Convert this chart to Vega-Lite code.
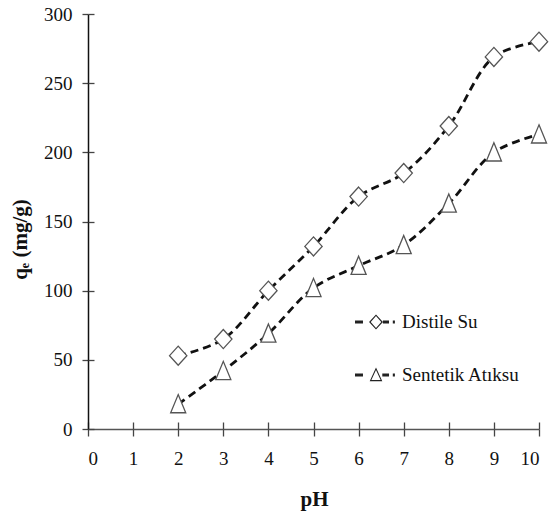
{
  "$schema": "https://vega.github.io/schema/vega-lite/v6.json",
  "width": 451,
  "height": 415,
  "autosize": {"type": "none"},
  "padding": {"left": 88, "top": 14, "right": 16, "bottom": 86},
  "background": "white",
  "config": {"view": {"stroke": null}, "font": "Liberation Serif"},
  "data": {
    "values": [
      {"pH": 2, "qe": 53, "series": "Distile Su"},
      {"pH": 3, "qe": 65, "series": "Distile Su"},
      {"pH": 4, "qe": 100, "series": "Distile Su"},
      {"pH": 5, "qe": 132, "series": "Distile Su"},
      {"pH": 6, "qe": 168, "series": "Distile Su"},
      {"pH": 7, "qe": 185, "series": "Distile Su"},
      {"pH": 8, "qe": 219, "series": "Distile Su"},
      {"pH": 9, "qe": 269, "series": "Distile Su"},
      {"pH": 10, "qe": 280, "series": "Distile Su"},
      {"pH": 2, "qe": 18, "series": "Sentetik Atıksu"},
      {"pH": 3, "qe": 42, "series": "Sentetik Atıksu"},
      {"pH": 4, "qe": 69, "series": "Sentetik Atıksu"},
      {"pH": 5, "qe": 102, "series": "Sentetik Atıksu"},
      {"pH": 6, "qe": 118, "series": "Sentetik Atıksu"},
      {"pH": 7, "qe": 133, "series": "Sentetik Atıksu"},
      {"pH": 8, "qe": 163, "series": "Sentetik Atıksu"},
      {"pH": 9, "qe": 200, "series": "Sentetik Atıksu"},
      {"pH": 10, "qe": 213, "series": "Sentetik Atıksu"}
    ]
  },
  "resolve": {
    "axis": {"x": "independent", "y": "independent"},
    "scale": {"shape": "independent"},
    "legend": {"shape": "independent"}
  },
  "layer": [
    {
      "mark": {"type": "line", "interpolate": "catmull-rom", "strokeDash": [8, 5], "strokeWidth": 2.8, "color": "#111"},
      "encoding": {
        "x": {
          "field": "pH", "type": "quantitative",
          "scale": {"domain": [0, 10], "nice": false, "zero": false},
          "axis": {
            "orient": "bottom",
            "title": "pH", "values": [0,1,2,3,4,5,6,7,8,9,10], "grid": false,
            "labelFont": "Liberation Serif", "labelFontSize": 19, "labelColor": "#111", "labelPadding": 13,
            "tickSize": 7, "tickColor": "#444", "tickWidth": 1.3,
            "domainColor": "#555", "domainWidth": 1.5,
            "titleFont": "Liberation Serif", "titleFontSize": 21, "titleFontWeight": "bold", "titleColor": "#111",
            "titleX": 226, "titleY": 76, "titleBaseline": "alphabetic", "titleAlign": "center"
          }
        },
        "y": {
          "field": "qe", "type": "quantitative",
          "scale": {"domain": [0, 300], "nice": false},
          "axis": {
            "orient": "left",
            "title": "qₑ (mg/g)", "values": [0,50,100,150,200,250,300], "grid": false,
            "labelFont": "Liberation Serif", "labelFontSize": 19, "labelColor": "#111", "labelPadding": 10,
            "tickSize": 6, "tickColor": "#444", "tickWidth": 1.3,
            "domainColor": "#111", "domainWidth": 1.5,
            "titleFont": "Liberation Serif", "titleFontSize": 21, "titleFontWeight": "bold", "titleColor": "#111",
            "titleX": -68, "titleY": 225, "titleBaseline": "middle", "titleAlign": "center", "titleAngle": -90
          }
        },
        "detail": {"field": "series"}
      }
    },
    {
      "mark": {"type": "point", "filled": true, "fill": "white", "stroke": "#555", "strokeWidth": 1.3, "opacity": 1, "size": 300},
      "encoding": {
        "x": {
          "field": "pH", "type": "quantitative",
          "axis": {
            "orient": "bottom", "title": null, "labels": false, "domain": false, "grid": false,
            "values": [0,1,2,3,4,5,6,7,8,9,10],
            "offset": -7, "tickSize": 7, "tickColor": "#444", "tickWidth": 1.3
          }
        },
        "y": {
          "field": "qe", "type": "quantitative",
          "axis": {
            "orient": "left", "title": null, "labels": false, "domain": false, "grid": false,
            "values": [0,50,100,150,200,250,300],
            "offset": -6, "tickSize": 6, "tickColor": "#444", "tickWidth": 1.3
          }
        },
        "shape": {
          "field": "series", "type": "nominal",
          "scale": {
            "domain": ["Distile Su", "Sentetik Atıksu"],
            "range": ["M0,-1.1L1,0L0,1.1L-1,0Z", "M0,-1.1L0.87,1L-0.87,1Z"]
          },
          "legend": null
        }
      }
    },
    {
      "mark": {"type": "point", "filled": true, "fill": "#222", "strokeWidth": 0, "opacity": 0, "size": 10},
      "encoding": {
        "x": {"field": "pH", "type": "quantitative", "axis": null},
        "y": {"field": "qe", "type": "quantitative", "axis": null},
        "shape": {
          "field": "series", "type": "nominal",
          "scale": {
            "domain": ["Distile Su", "Sentetik Atıksu"],
            "range": [
              "M-1,-0.07H-0.62V0.07H-1Z M0,-0.36L0.33,0L0,0.36L-0.33,0Z M0,-0.28L-0.25,0L0,0.28L0.25,0Z M0.33,-0.07H0.62V0.07H0.33Z M0.8,-0.07H0.9V0.07H0.8Z",
              "M-1,-0.07H-0.62V0.07H-1Z M0,-0.36L0.3,0.3L-0.3,0.3Z M0,-0.24L-0.22,0.24L0.22,0.24Z M0.3,-0.07H0.62V0.07H0.3Z M0.8,-0.07H0.9V0.07H0.8Z"
            ]
          },
          "legend": {
            "title": null, "orient": "none", "legendX": 267, "legendY": 287,
            "symbolSize": 1764, "symbolOpacity": 1, "symbolStrokeWidth": 0,
            "symbolFillColor": "#222",
            "labelFont": "Liberation Serif", "labelFontSize": 19, "labelColor": "#111",
            "labelOffset": 5, "rowPadding": 22
          }
        }
      }
    }
  ]
}
